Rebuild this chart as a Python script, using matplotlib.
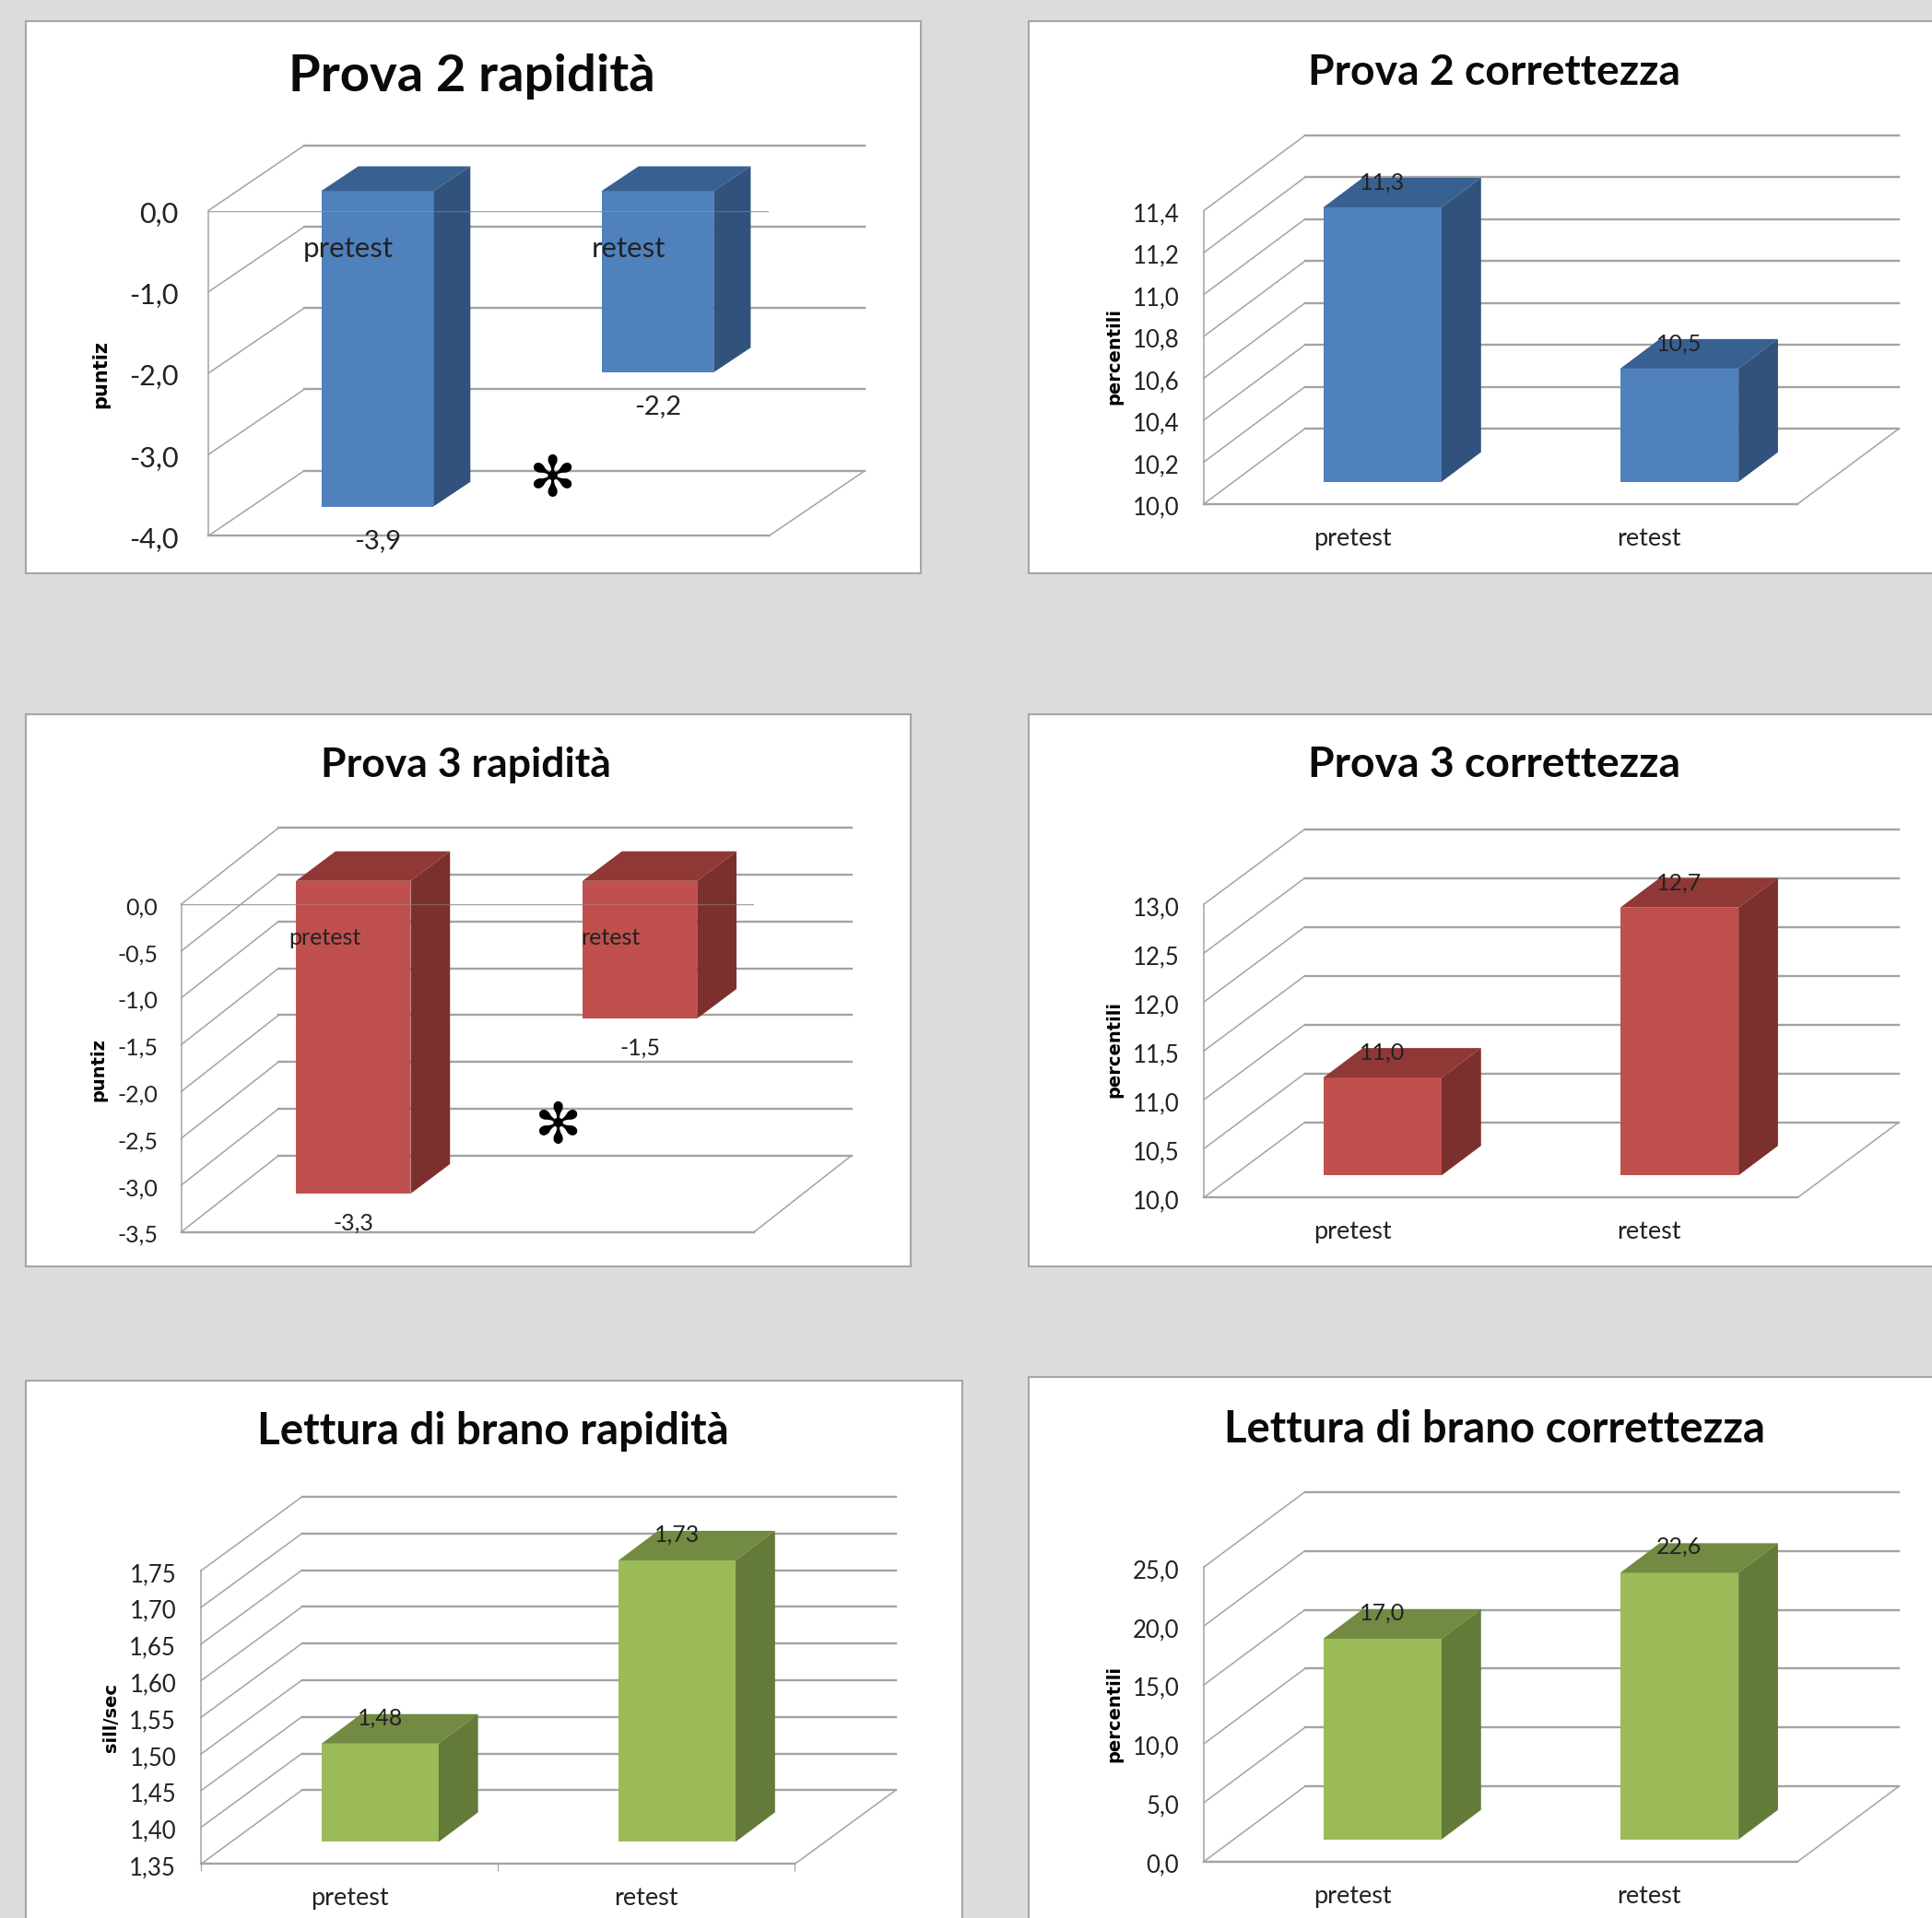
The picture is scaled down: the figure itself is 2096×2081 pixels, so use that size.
import matplotlib
matplotlib.use("Agg")
import matplotlib.pyplot as plt
from matplotlib.patches import Polygon, Rectangle
from matplotlib.transforms import ScaledTranslation

W, H = 2096, 2081
S = W / 1568.0
plt.rcParams['font.family'] = ['Lato', 'DejaVu Sans']

categories = ["pretest", "retest"]

titles = ["Prova 2 rapidità", "Prova 2 correttezza", "Prova 3 rapidità",
          "Prova 3 correttezza", "Lettura di brano rapidità", "Lettura di brano correttezza"]
ylabels = ["puntiz", "percentili", "puntiz", "percentili", "sill/sec", "percentili"]

prova2_rapidita = [-3.88, -2.23]
prova2_correttezza = [11.31, 10.54]
prova3_rapidita = [-3.34, -1.47]
prova3_correttezza = [11.0, 12.74]
lettura_rapidita = [1.484, 1.734]
lettura_correttezza = [17.04, 22.64]

ticks_p2r = [0.0, -1.0, -2.0, -3.0, -4.0]
ticks_p2c = [10.0, 10.2, 10.4, 10.6, 10.8, 11.0, 11.2, 11.4]
ticks_p3r = [0.0, -0.5, -1.0, -1.5, -2.0, -2.5, -3.0, -3.5]
ticks_p3c = [10.0, 10.5, 11.0, 11.5, 12.0, 12.5, 13.0]
ticks_lr = [1.35, 1.40, 1.45, 1.50, 1.55, 1.60, 1.65, 1.70, 1.75]
ticks_lc = [0.0, 5.0, 10.0, 15.0, 20.0, 25.0]

BLUE = ("#4F81BD", "#386192", "#30527C")
RED = ("#C0504D", "#903836", "#7C302E")
GREEN = ("#9BBB59", "#728A42", "#647A38")
GRID = "#A3A3A3"

fig = plt.figure(figsize=(W / 100, H / 100), dpi=100, facecolor="#DCDCDC")


def panel(box, title, title_pos, title_size, ylabel, ylabel_pos, values, ticks, dec, colors,
          front, ytop, ybot, back, bar_w, shift, depth, tick_size, tick_right,
          label_off, label_size, cat_off, cat_size, star=None, xticks=False, ylab_size=14):
    bx0, by0, bx1, by1 = box
    fig.add_artist(Rectangle((bx0 * S / W, 1 - by1 * S / H), (bx1 - bx0) * S / W, (by1 - by0) * S / H,
                             transform=fig.transFigure, fc="white", ec="#A6A6A6", lw=1.5, zorder=0))
    fig.text(title_pos[0] * S / W, 1 - title_pos[1] * S / H, title, ha="center", va="center",
             fontsize=title_size, fontweight="bold", color="#0A0A0A", zorder=5)
    fig.text(ylabel_pos[0] * S / W, 1 - ylabel_pos[1] * S / H, ylabel, ha="center", va="center",
             rotation=90, fontsize=ylab_size, fontweight="bold", family="DejaVu Sans", zorder=5)

    fx0, fx1 = front
    ax = fig.add_axes([fx0 * S / W, 1 - ybot * S / H, (fx1 - fx0) * S / W, (ybot - ytop) * S / H])
    ax.patch.set_alpha(0)
    lo, hi = min(ticks), max(ticks)
    ax.set_xlim(0, 2)
    ax.set_ylim(lo, hi)
    ux = 2.0 / (fx1 - fx0)
    uy = (hi - lo) / (ybot - ytop)

    def off(p):
        return p[0] * ux, -p[1] * uy

    bdx, bdy = off(back)
    for t in ticks:
        ax.plot([bdx, 2 + bdx], [t + bdy, t + bdy], color=GRID, lw=1.7, clip_on=False, zorder=1)
        ax.plot([0, bdx], [t, t + bdy], color=GRID, lw=1.1, clip_on=False, zorder=1.1)
    ax.plot([2, 2 + bdx], [lo, lo + bdy], color=GRID, lw=1.1, clip_on=False, zorder=1)

    sx, sy = off(shift)
    dx, dy = off(depth)
    base = 0.0 if hi <= 0 else lo
    w = bar_w * ux
    xs = [0.5, 1.5]
    for x0, v in zip(xs, values):
        xc = x0 + sx
        ax.bar(xc, v - base, width=w, bottom=base + sy, color=colors[0], clip_on=False, zorder=3)
        up = max(v, base) + sy
        dn = min(v, base) + sy
        l, r = xc - w / 2, xc + w / 2
        ax.add_patch(Polygon([(l, up), (r, up), (r + dx, up + dy), (l + dx, up + dy)],
                             fc=colors[1], ec="none", clip_on=False, zorder=3))
        ax.add_patch(Polygon([(r, up), (r + dx, up + dy), (r + dx, dn + dy), (r, dn)],
                             fc=colors[2], ec="none", clip_on=False, zorder=3))
        txt = f"{v:.{dec}f}".replace(".", ",")
        ax.annotate(txt, xy=(xc, v + sy), xytext=(0, label_off * S), textcoords="offset pixels",
                    ha="center", va="center", fontsize=label_size, color="#222222", zorder=6,
                    annotation_clip=False)

    for x0, c in zip(xs, categories):
        y_anchor = hi if hi <= 0 else lo
        ax.annotate(c, xy=(x0, y_anchor), xytext=(0, cat_off * S), textcoords="offset pixels",
                    ha="center", va="center", fontsize=cat_size, color="#222222", zorder=6,
                    annotation_clip=False)

    if hi <= 0:
        ax.axhline(0, color=GRID, lw=1.7, zorder=1.2)
        ax.axhline(0, color=GRID, lw=1.7, alpha=0.4, zorder=4)
    for s in ("top", "right"):
        ax.spines[s].set_visible(False)
    for s in ("left", "bottom"):
        ax.spines[s].set_color(GRID)
        ax.spines[s].set_linewidth(1.7)
    ax.spines["left"].set_linewidth(1.1)
    ax.set_yticks(ticks)
    ax.set_yticklabels([f"{t:.{dec}f}".replace(".", ",") for t in ticks])
    ax.tick_params(axis="y", length=0, pad=(fx0 - tick_right) * S * 0.72,
                   labelsize=tick_size, labelcolor="#222222")
    nudge = ScaledTranslation(0, -1.2 / 72, fig.dpi_scale_trans)
    for lab in ax.get_yticklabels():
        lab.set_transform(lab.get_transform() + nudge)
    if xticks:
        ax.set_xticks([0, 1, 2])
        ax.set_xticklabels([])
        ax.tick_params(axis="x", length=6, color=GRID, width=0.9)
    else:
        ax.set_xticks([])
    if star:
        fig.text(star[0] * S / W, 1 - star[1] * S / H, "\u273B", ha="center", va="center",
                 fontsize=44, color="black", family="DejaVu Sans", zorder=7)


panel((21, 17, 747, 465), titles[0], (383, 62), 40.5, ylabels[0], (82, 304), prova2_rapidita, ticks_p2r, 1, BLUE,
      (169, 624), 171, 435, (78, -53), 91, (23.5, -16), (30, -20), 22, 145,
      -28, 21, -31, 22.5, star=(448, 390), ylab_size=15)
panel((835, 17, 1600, 465), titles[1], (1213, 59), 33.4, ylabels[1], (904, 289), prova2_correttezza, ticks_p2c, 1, BLUE,
      (977, 1459), 171, 409, (82, -61), 96, (24.5, -18), (32, -24), 18.5, 957,
      20, 18, -28, 19.5)
panel((21, 580, 739, 1028), titles[2], (378, 621), 32, ylabels[2], (80, 868), prova3_rapidita, ticks_p3r, 1, RED,
      (147, 612), 734, 1000, (79, -62), 93, (23.5, -19), (32, -24), 18, 128,
      -24, 18, -27, 18, star=(452, 915))
panel((835, 580, 1600, 1028), titles[3], (1213, 621), 33.4, ylabels[3], (904, 852), prova3_correttezza, ticks_p3c, 1, RED,
      (977, 1459), 734, 972, (82, -61), 96, (24.5, -18), (32, -24), 18.5, 957,
      20, 18, -28, 19.5)
panel((21, 1121, 781, 1600), titles[4], (400, 1162), 34.2, ylabels[4], (90, 1394), lettura_rapidita, ticks_lr, 2, GREEN,
      (163, 645), 1275, 1513, (82, -60), 95, (25, -18), (32, -24), 18.5, 143,
      21, 18, -28, 19.5, xticks=True)
panel((835, 1118, 1600, 1600), titles[5], (1213, 1160), 34, ylabels[5], (904, 1391), lettura_correttezza, ticks_lc, 1, GREEN,
      (977, 1459), 1272, 1511, (82, -61), 96, (24.5, -18), (32, -24), 18.5, 957,
      21, 18, -28, 19.5)

fig.savefig("out.png", dpi=100, facecolor=fig.get_facecolor())
